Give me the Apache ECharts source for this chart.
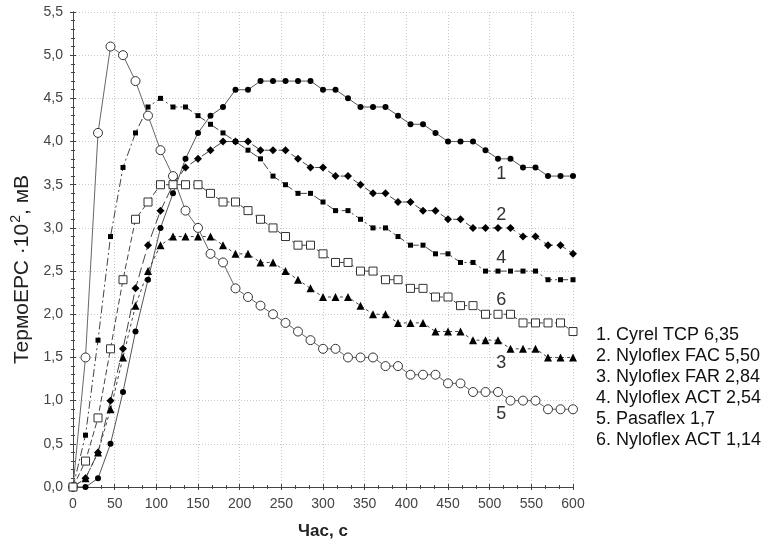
<!DOCTYPE html>
<html>
<head>
<meta charset="utf-8">
<script src="https://cdn.jsdelivr.net/npm/echarts@6/dist/echarts.min.js"></script>
<style>
    html, body { margin: 0; padding: 0; background: #fff; }
    #chart { width: 769px; height: 545px; }
</style>
</head>
<body>
<div id="chart"></div>
<script>
    // час, с
    var time = [0, 15, 30, 45, 60, 75, 90, 105, 120, 135, 150, 165, 180, 195, 210, 225, 240, 255, 270, 285,
                300, 315, 330, 345, 360, 375, 390, 405, 420, 435, 450, 465, 480, 495, 510, 525, 540, 555, 570, 585, 600];

    var names = ['1. Cyrel TCP 6,35', '2. Nyloflex FAC 5,50', '3. Nyloflex FAR 2,84',
                 '4. Nyloflex ACT 2,54', '5. Pasaflex 1,7', '6. Nyloflex ACT 1,14'];
    var curveLabels = ['1', '2', '3', '4', '5', '6'];

    // термоЕРС, мВ (x10^-2)
    var cyrel635 = [0, 0, 0.1, 0.5, 1.1, 1.8, 2.4, 3.0, 3.4, 3.8, 4.1, 4.3, 4.4, 4.6, 4.6, 4.7, 4.7, 4.7, 4.7, 4.7,
                    4.6, 4.6, 4.5, 4.4, 4.4, 4.4, 4.3, 4.2, 4.2, 4.1, 4.0, 4.0, 4.0, 3.9, 3.8, 3.8, 3.7, 3.7, 3.6, 3.6, 3.6];
    var fac550 = [0, 0.1, 0.4, 1.0, 1.6, 2.3, 2.8, 3.2, 3.5, 3.7, 3.8, 3.9, 4.0, 4.0, 4.0, 3.9, 3.9, 3.9, 3.8, 3.7,
                  3.7, 3.6, 3.6, 3.5, 3.4, 3.4, 3.3, 3.3, 3.2, 3.2, 3.1, 3.1, 3.0, 3.0, 3.0, 3.0, 2.9, 2.9, 2.8, 2.8, 2.7];
    var far284 = [0, 0.1, 0.4, 0.9, 1.5, 2.1, 2.5, 2.8, 2.9, 2.9, 2.9, 2.9, 2.8, 2.7, 2.7, 2.6, 2.6, 2.5, 2.4, 2.3,
                  2.2, 2.2, 2.2, 2.1, 2.0, 2.0, 1.9, 1.9, 1.9, 1.8, 1.8, 1.8, 1.7, 1.7, 1.7, 1.6, 1.6, 1.6, 1.5, 1.5, 1.5];
    var act254 = [0, 0.6, 1.7, 2.9, 3.7, 4.1, 4.4, 4.5, 4.4, 4.4, 4.3, 4.2, 4.1, 4.0, 3.9, 3.8, 3.6, 3.5, 3.4, 3.4,
                  3.3, 3.2, 3.2, 3.1, 3.0, 3.0, 2.9, 2.8, 2.8, 2.7, 2.7, 2.6, 2.6, 2.5, 2.5, 2.5, 2.5, 2.5, 2.4, 2.4, 2.4];
    var pasa17 = [0, 1.5, 4.1, 5.1, 5.0, 4.7, 4.3, 3.9, 3.6, 3.2, 3.0, 2.7, 2.6, 2.3, 2.2, 2.1, 2.0, 1.9, 1.8, 1.7,
                  1.6, 1.6, 1.5, 1.5, 1.5, 1.4, 1.4, 1.3, 1.3, 1.3, 1.2, 1.2, 1.1, 1.1, 1.1, 1.0, 1.0, 1.0, 0.9, 0.9, 0.9];
    var act114 = [0, 0.3, 0.8, 1.6, 2.4, 3.1, 3.3, 3.5, 3.5, 3.5, 3.5, 3.4, 3.3, 3.3, 3.2, 3.1, 3.0, 2.9, 2.8, 2.8,
                  2.7, 2.6, 2.6, 2.5, 2.5, 2.4, 2.4, 2.3, 2.3, 2.2, 2.2, 2.1, 2.1, 2.0, 2.0, 2.0, 1.9, 1.9, 1.9, 1.9, 1.8];

    var chart = echarts.init(document.getElementById('chart'), null, { renderer: 'canvas' });

    function pairs(vals) {
        return time.map(function (t, i) { return [t, vals[i]]; });
    }

    // номер кривой справа от неё
    function tag(i, y) {
        return {
            silent: true,
            symbol: 'circle',
            symbolSize: 1,
            itemStyle: { color: 'rgba(0,0,0,0)' },
            label: { show: true, position: 'inside', formatter: curveLabels[i], fontSize: 18, color: '#333', fontFamily: 'Liberation Sans' },
            data: [{ coord: [514, y] }]
        };
    }

    function line(i, vals, opts) {
        var open = !!opts.open;
        return {
            name: names[i],
            type: 'line',
            data: pairs(vals),
            symbol: opts.symbol,
            symbolSize: opts.size,
            showAllSymbol: true,
            animation: false,
            z: open ? 3 : 2,
            lineStyle: { color: opts.lineColor || '#444', width: 1, type: opts.dash || 'solid' },
            itemStyle: {
                color: open ? '#fff' : '#000',
                borderColor: open ? '#333' : '#000',
                borderWidth: open ? 1 : 0
            },
            markPoint: tag(i, opts.tagY)
        };
    }

    var tickFont = { fontFamily: 'Liberation Sans', fontSize: 14, color: '#444' };
    var axisGray = '#444';

    chart.setOption({
        backgroundColor: '#fff',
        grid: { left: 73, right: 196, top: 12, bottom: 56 },
        xAxis: [{
            type: 'value', min: 0, max: 600, interval: 50,
            name: 'Час, с', nameLocation: 'middle', nameGap: 36,
            nameTextStyle: { fontFamily: 'Liberation Sans', fontSize: 17, fontWeight: 'bold', color: '#222' },
            axisLine: { lineStyle: { color: axisGray } },
            axisTick: { inside: true, length: 3, lineStyle: { color: axisGray } },
            minorTick: { show: true, splitNumber: 3, length: 2, lineStyle: { color: axisGray } },
            axisLabel: Object.assign({ margin: 10 }, tickFont),
            splitLine: { show: true, lineStyle: { color: '#c8c8c8', type: [1, 2] } }
        }, {
            type: 'value', min: 0, max: 600, interval: 50, position: 'top',
            axisLine: { lineStyle: { color: axisGray } },
            axisTick: { inside: true, length: 3, lineStyle: { color: axisGray } },
            minorTick: { show: true, splitNumber: 3, length: 2, lineStyle: { color: axisGray } },
            axisLabel: { show: false }, splitLine: { show: false }
        }],
        yAxis: [{
            type: 'value', min: 0, max: 5.5, interval: 0.5,
            name: '{a|ТермоЕРС ·10}{s|2}{a|, мВ}', nameLocation: 'middle', nameGap: 32, nameRotate: 90,
            nameTextStyle: {
                fontFamily: 'Liberation Sans', fontSize: 21, color: '#222',
                padding: [0, 40, 0, 0],
                rich: {
                    a: { fontFamily: 'Liberation Sans', fontSize: 21, color: '#222' },
                    s: { fontFamily: 'Liberation Sans', fontSize: 14, color: '#222', padding: [0, 0, 12, 1] }
                }
            },
            axisLine: { show: true, lineStyle: { color: axisGray } },
            axisTick: { show: true, inside: true, length: 3, lineStyle: { color: axisGray } },
            minorTick: { show: true, splitNumber: 5, length: 2, lineStyle: { color: axisGray } },
            axisLabel: Object.assign({
                margin: 10,
                formatter: function (v) { return v.toFixed(1).replace('.', ','); }
            }, tickFont),
            splitLine: { show: true, lineStyle: { color: '#c8c8c8', type: [1, 2] } }
        }, {
            type: 'value', min: 0, max: 5.5, interval: 0.5, position: 'right',
            axisLine: { show: true, lineStyle: { color: axisGray } },
            axisTick: { show: true, inside: true, length: 3, lineStyle: { color: axisGray } },
            minorTick: { show: true, splitNumber: 5, length: 2, lineStyle: { color: axisGray } },
            axisLabel: { show: false }, splitLine: { show: false }
        }],
        graphic: [{
            type: 'text',
            left: 596,
            top: 325,
            style: {
                text: names.join('\n'),
                font: '18px "Liberation Sans"',
                lineHeight: 21,
                fill: '#111'
            }
        }],
        series: [
            line(0, cyrel635, { symbol: 'circle', size: 6, lineColor: '#555', tagY: 3.62 }),
            line(1, fac550, { symbol: 'diamond', size: 8, dash: [10, 4], tagY: 3.15 }),
            line(2, far284, { symbol: 'triangle', size: 8, dash: [3, 3], tagY: 1.43 }),
            line(3, act254, { symbol: 'rect', size: 5, dash: [8, 3, 2, 3], tagY: 2.65 }),
            line(4, pasa17, { symbol: 'circle', size: 9, lineColor: '#666', open: true, tagY: 0.85 }),
            line(5, act114, { symbol: 'rect', size: 8, dash: [6, 3], open: true, tagY: 2.16 })
        ]
    });
</script>
</body>
</html>
